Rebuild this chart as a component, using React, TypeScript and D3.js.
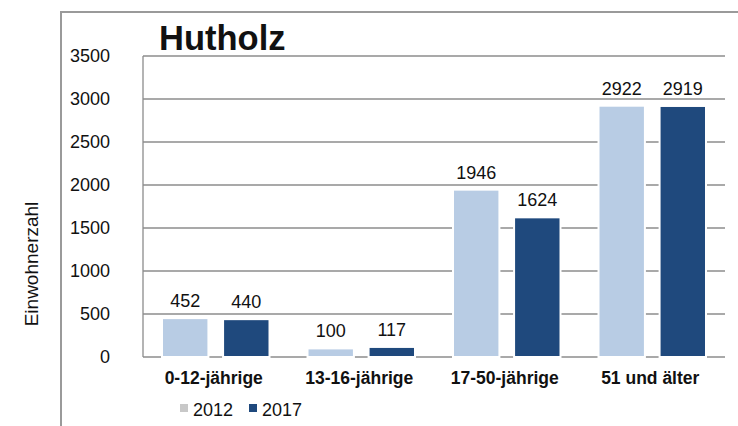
import React from 'react';
import * as d3 from 'd3';

// Einwohner nach Altersgruppe, Hutholz
const categories = ['0-12-jährige', '13-16-jährige', '17-50-jährige', '51 und älter'];
const years = ['2012', '2017'];
const values2012 = [452, 100, 1946, 2922];
const values2017 = [440, 117, 1624, 2919];
const yTicks = [0, 500, 1000, 1500, 2000, 2500, 3000, 3500];

const colors: Record<string, string> = { '2012': '#b8cce4', '2017': '#1f497d' };
const font = 'Arial, "Liberation Sans", sans-serif';

const App: React.FC = () => {
    const width = 738;
    const height = 426;
    const plot = { left: 143, right: 725, top: 56, bottom: 357 };

    const x0 = d3.scaleBand<string>()
        .domain(categories)
        .range([plot.left, plot.right])
        .padding(0);

    const x1 = d3.scaleBand<string>()
        .domain(years)
        .range([19, x0.bandwidth() - 19])
        .paddingInner(0.24)
        .paddingOuter(0);

    const y = d3.scaleLinear()
        .domain([0, 3500])
        .range([plot.bottom, plot.top]);

    const data = categories.map((c, i) => ({
        category: c,
        bars: [
            { year: '2012', value: values2012[i] },
            { year: '2017', value: values2017[i] }
        ]
    }));

    return (
        <svg width={width} height={height} style={{ position: 'absolute', left: 0, top: 0, background: '#fff' }}>
            {/* outer frame */}
            <path d={`M61,${height + 2} V12 H${width + 2}`} fill="none" stroke="#9a9a9a" strokeWidth={2} />

            {/* gridlines */}
            {yTicks.map(t => (
                <line key={t} x1={plot.left} x2={plot.right} y1={y(t)} y2={y(t)} stroke="#8c8c8c" strokeWidth={1.3} />
            ))}
            <line x1={plot.left} x2={plot.left} y1={plot.top} y2={plot.bottom} stroke="#8c8c8c" strokeWidth={1.3} />

            {/* y tick labels */}
            {yTicks.map(t => (
                <text key={t} x={110} y={y(t)} dy="0.35em" textAnchor="end" fontFamily={font} fontSize={18} fill="#111">
                    {t}
                </text>
            ))}

            {/* bars */}
            {data.map(d => (
                <g key={d.category} transform={`translate(${x0(d.category)},0)`}>
                    {d.bars.map(b => (
                        <g key={b.year}>
                            <rect
                                x={x1(b.year)}
                                y={y(b.value)}
                                width={x1.bandwidth()}
                                height={y(0) - y(b.value)}
                                fill={colors[b.year]}
                                stroke="#ffffff"
                                strokeWidth={2}
                            />
                            <text
                                x={(x1(b.year) || 0) + x1.bandwidth() / 2}
                                y={y(b.value) - 11}
                                textAnchor="middle"
                                fontFamily={font}
                                fontSize={18}
                                fill="#111"
                            >
                                {b.value}
                            </text>
                        </g>
                    ))}
                </g>
            ))}

            {/* category labels */}
            {categories.map(c => (
                <text key={c} x={(x0(c) || 0) + x0.bandwidth() / 2 - 2} y={384} textAnchor="middle"
                    fontFamily={font} fontSize={17.5} fontWeight="bold" fill="#111">
                    {c}
                </text>
            ))}

            {/* title */}
            <text x={159} y={50} fontFamily={font} fontSize={34.5} fontWeight="bold" fill="#111">Hutholz</text>

            {/* y axis title */}
            <text transform="translate(38,264) rotate(-90)" textAnchor="middle" fontFamily={font} fontSize={19} fill="#111">
                Einwohnerzahl
            </text>

            {/* legend */}
            {years.map((yr, i) => (
                <g key={yr} transform={`translate(${180 + i * 69},0)`}>
                    <rect x={0} y={404} width={8} height={8} fill={yr === '2012' ? '#c8c8c8' : colors[yr]} />
                    <text x={13} y={416} fontFamily={font} fontSize={18} fill="#111">{yr}</text>
                </g>
            ))}
        </svg>
    );
};

export default App;
